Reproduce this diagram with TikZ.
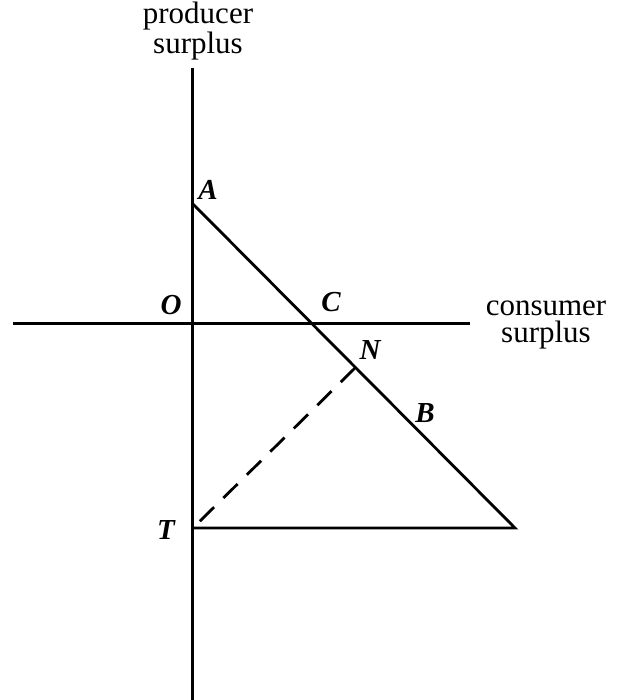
\documentclass[tikz,border=0pt]{standalone}
\usepackage{fontspec}
\setmainfont{Liberation Serif}
\begin{document}
\begin{tikzpicture}[x=1pt,y=-1pt,
  axis/.style={line width=3pt},
  seg/.style={line width=2.8pt},
  pt/.style={font=\fontsize{29}{29}\selectfont\bfseries\itshape, inner sep=0pt},
  axlabel/.style={font=\fontsize{31}{27}\selectfont, align=center, inner sep=0pt}]
\useasboundingbox (0,0) rectangle (617,700);
\coordinate (Ytop) at (192,68);
\coordinate (Ybot) at (192,700);
\coordinate (Xl) at (13,323);
\coordinate (Xr) at (470,323);
\coordinate (A) at (192,203);
\coordinate (E) at (515,528);
\coordinate (T) at (192,528);
\coordinate (N) at (355,368);
\coordinate (Ts) at (195,526);
\draw[axis] (Ytop) -- (Ybot);
\draw[axis] (Xl) -- (Xr);
\draw[seg] (A) -- (E) -- (T);
\draw[seg, dash pattern=on 20pt off 13pt] (N) -- (Ts);
\node[axlabel] (py) at (198,31) {producer\\surplus};
\node[axlabel] (px) at (546,325) {consumer\\surplus};
\node[pt] (lA) at (208,190) {A};
\node[pt] (lO) at (171,305) {O};
\node[pt] (lC) at (331,302) {C};
\node[pt] (lN) at (370,350) {N};
\node[pt] (lB) at (425,413) {B};
\node[pt] (lT) at (166,530) {T};
\end{tikzpicture}
\end{document}
